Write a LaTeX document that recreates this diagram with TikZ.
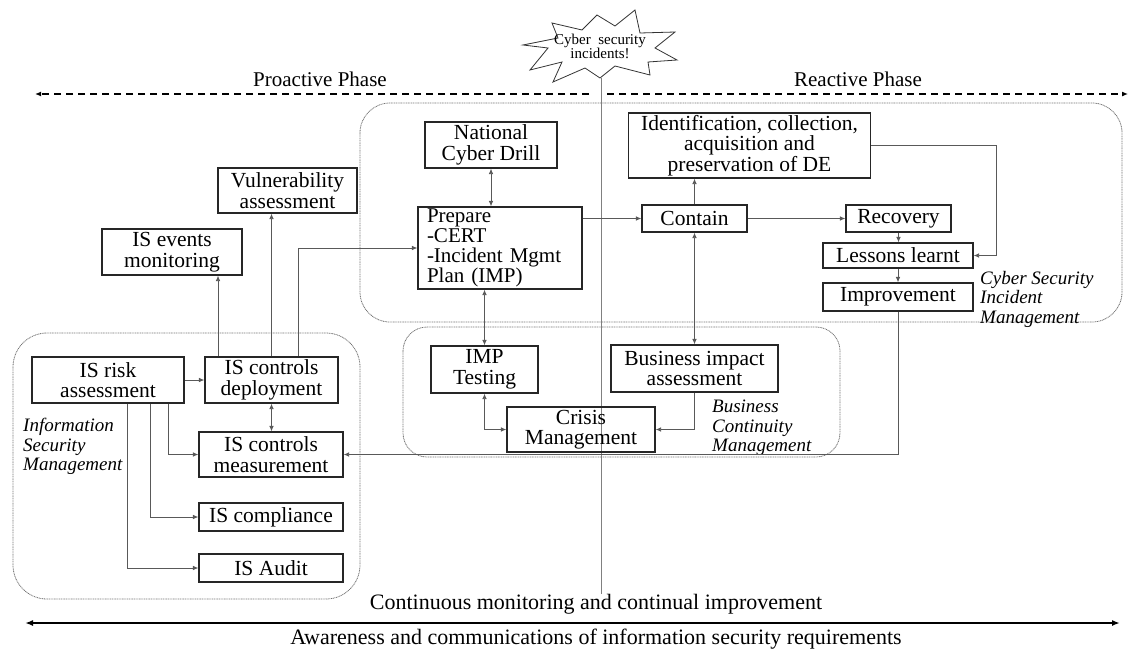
\documentclass[tikz,border=0pt]{standalone}
\usepackage{fontspec}
\setmainfont{Liberation Serif}
\usetikzlibrary{arrows.meta}
\begin{document}
\begin{tikzpicture}[x=1pt,y=-1pt,
  box/.style={draw=black!85, line width=1.1pt, inner sep=0pt, align=center,
    font=\fontsize{21.5}{20.5}\selectfont},
  conn/.style={draw=black!65, line width=0.8pt},
  tip/.style={-{Latex[length=5.5pt,width=4.5pt]}},
  tips/.style={{Latex[length=5.5pt,width=4.5pt]}-{Latex[length=5.5pt,width=4.5pt]}},
  area/.style={draw=black!55, line width=0.8pt, dash pattern=on 1pt off 0.7pt, rounded corners=30pt},
  tag/.style={font=\fontsize{19}{19.5}\selectfont\itshape, align=left, inner sep=0pt, anchor=north west},
  phase/.style={font=\fontsize{21}{21}\selectfont, inner sep=0pt},
  phasearrow/.style={line width=1.5pt, dash pattern=on 7pt off 5pt, -{Latex[length=6pt,width=5pt]}},
  plain/.style={font=\fontsize{22}{22}\selectfont, inner sep=0pt},
]
\useasboundingbox (0,0) rectangle (1138,648);

% incident burst
\draw[black!80, line width=0.8pt] (523,45) -- (548,48) -- (530,70) -- (562,62) -- (553,82)
  -- (585,68) -- (600,78) -- (615,66) -- (650,75) -- (648,62) -- (677,60) -- (655,48)
  -- (675,32) -- (640,33) -- (635,10) -- (615,26) -- (597,15) -- (582,30) -- (552,23)
  -- (558,38) -- cycle;
\node[font=\fontsize{15}{14}\selectfont, align=center, inner sep=0pt] (burst) at (600,46)
  {Cyber\ \ security\\incidents!};

% phase arrows and divider
\coordinate (pleft) at (35,94);
\coordinate (pmidl) at (589,94);
\coordinate (pmidr) at (607,94);
\coordinate (pright) at (1128,94);
\draw[phasearrow] (pmidl) -- (pleft);
\draw[phasearrow] (pmidr) -- (pright);
\node[phase] (pro) at (320,79) {Proactive Phase};
\node[phase] (rea) at (858,79) {Reactive Phase};
\coordinate (divtop) at (601,78);
\coordinate (divbot) at (601,594);
\draw[black!50, line width=0.7pt] (divtop) -- (divbot);

% management areas
\draw[area] (360,103) rectangle (1122,322);
\draw[area, rounded corners=24pt] (403,327) rectangle (840,457);
\draw[area, rounded corners=34pt] (13,333) rectangle (360,599);

\node[tag] (csimtag) at (980,271) {Cyber Security\\Incident\\Management};
\node[tag] (bcmtag) at (712,400) {Business\\Continuity\\Management};
\node[tag] (ismtag) at (23,418) {Information\\Security\\Management};

% boxes
\node[box, minimum width=132pt, minimum height=46pt] (drill) at (491,145) {National\\Cyber Drill};
\node[box, minimum width=242pt, minimum height=65pt] (ident) at (749.5,145.5)
  {Identification, collection,\\acquisition and\\preservation of DE};
\node[box, minimum width=139pt, minimum height=45pt] (vuln) at (287.5,190.5) {Vulnerability\\assessment};
\node[box, minimum width=140pt, minimum height=46pt] (events) at (172,252) {IS events\\monitoring};
\node[box, minimum width=164pt, minimum height=82pt, align=left, text width=146pt, inner xsep=9pt,
  font=\fontsize{21}{20}\selectfont]
  (prepare) at (500,248) {Prepare\\-CERT\\-Incident Mgmt\\Plan (IMP)};
\node[box, minimum width=105pt, minimum height=27pt] (contain) at (694.5,218.5) {Contain};
\node[box, minimum width=105pt, minimum height=27pt] (recovery) at (898.5,218.5) {Recovery};
\node[box, minimum width=150pt, minimum height=25pt] (lessons) at (898,255.5) {Lessons learnt};
\node[box, minimum width=150pt, minimum height=28pt] (improve) at (898,297) {Improvement};
\node[box, minimum width=107pt, minimum height=47pt] (imp) at (484.5,369.5) {IMP\\Testing};
\node[box, minimum width=167pt, minimum height=47pt] (bia) at (694.5,368.5) {Business impact\\assessment};
\node[box, minimum width=148pt, minimum height=45pt] (crisis) at (581,429.5) {Crisis\\Management};
\node[box, minimum width=152pt, minimum height=46pt] (risk) at (108,380) {IS risk\\assessment};
\node[box, minimum width=133pt, minimum height=46pt] (deploy) at (271.5,380) {IS controls\\deployment};
\node[box, minimum width=144pt, minimum height=45pt] (measure) at (271,454.5) {IS controls\\measurement};
\node[box, minimum width=144pt, minimum height=28pt] (comply) at (271,517) {IS compliance};
\node[box, minimum width=144pt, minimum height=28pt] (audit) at (271,568) {IS Audit};

% information security management links
\draw[conn, tip] (risk.east) -- (deploy.west);
\draw[conn, tips] (deploy.south) -- (deploy.south |- measure.north);
\draw[conn, tip] ([xshift=60pt]risk.south) |- (measure.west);
\draw[conn, tip] ([xshift=42pt]risk.south) |- (comply.west);
\draw[conn, tip] ([xshift=19pt]risk.south) |- (audit.west);
\draw[conn, tip] ([xshift=-53.5pt]deploy.north) -- ([xshift=-53.5pt]deploy.north |- events.south);
\draw[conn, tip] (deploy.north) -- (deploy.north |- vuln.south);
\draw[conn, tip] ([xshift=26.5pt]deploy.north) |- (prepare.west);

% incident management links
\draw[conn, tips] (drill.south) -- (drill.south |- prepare.north);
\draw[conn, tips] (imp.north |- prepare.south) -- (imp.north);
\draw[conn, tip] (contain.west -| prepare.east) -- (contain.west);
\draw[conn, tip] (contain.north) -- (contain.north |- ident.south);
\draw[conn, tips] (contain.south) -- (contain.south |- bia.north);
\draw[conn, tip] (contain.east) -- (recovery.west);
\draw[conn, tip] (recovery.south) -- (lessons.north -| recovery.south);
\draw[conn, tip] (lessons.south) -- (improve.north);
\coordinate (loop) at (996,0);
\draw[conn, tip] (ident.east) -- (ident.east -| loop) |- (lessons.east);
\draw[conn, tip] (improve.south) |- (measure.east);

% business continuity links
\draw[conn, tips] (imp.south) |- (crisis.west);
\draw[conn, tip] (bia.south) |- (crisis.east);

% bottom band
\node[plain] (cont) at (596,604) {Continuous monitoring and continual improvement};
\coordinate (bl) at (25,623);
\coordinate (br) at (1120,623);
\draw[line width=2pt, {Latex[length=8pt,width=6pt]}-{Latex[length=8pt,width=6pt]}] (bl) -- (br);
\node[plain] (aware) at (596,639) {Awareness and communications of information security requirements};
\end{tikzpicture}
\end{document}
